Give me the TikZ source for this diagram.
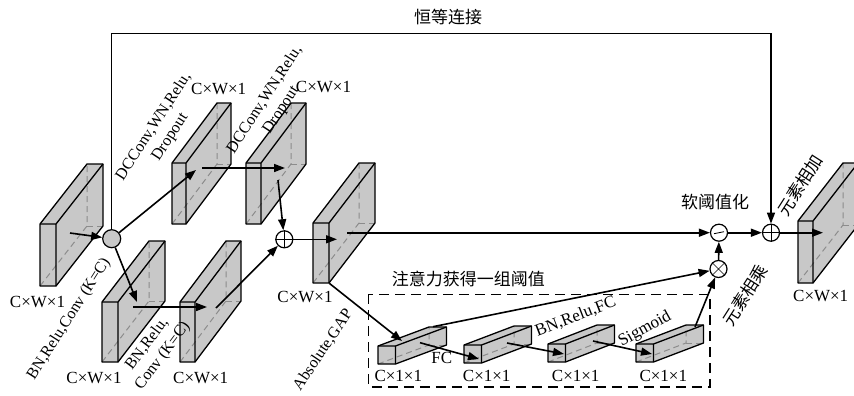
\documentclass[tikz,border=0pt]{standalone}
\usepackage{fontspec}
\setmainfont{Liberation Serif}
\newfontfamily\cjk{Noto Sans CJK SC}
\usetikzlibrary{arrows.meta}
\definecolor{slabgray}{HTML}{C8C8C8}
\definecolor{hidgray}{HTML}{8C8C8C}
\tikzset{
  edge/.style={line width=1.3pt, line join=round},
  hid/.style={draw=hidgray, line width=1pt, dash pattern=on 6pt off 4pt},
  arr/.style={line width=1.6pt, -{Triangle[length=11pt,width=8pt]}},
  opc/.style={circle, draw, line width=1.2pt, fill=white, minimum size=17pt, inner sep=0pt},
  lab/.style={font=\fontsize{17}{19}\selectfont, inner sep=0pt},
  rlab/.style={font=\fontsize{16}{19.5}\selectfont, inner sep=0pt, align=center},
  clab/.style={font=\cjk\fontsize{17}{19}\selectfont, inner sep=0pt},
  dbox/.style={line width=1.6pt, dash pattern=on 10pt off 6pt}
}
% #1 x, #2 y (front top-left), #3 w, #4 h, #5 dx, #6 up
\newcommand\slab[6]{%
  \path[fill=slabgray] (#1,#2) -- ++(#5,-#6) -- ++(#3,0) -- ++(0,#4) -- ++(-#5,#6) -- ++(-#3,0) -- cycle;
  \draw[hid] (#1,#2) ++(0,#4) -- ++(#5,-#6) -- ++(0,-#4);
  \draw[hid] (#1,#2) ++(#5,-#6) ++(0,#4) -- ++(#3,0);
  \draw[edge] (#1,#2) -- ++(#5,-#6) -- ++(#3,0) -- ++(0,#4) -- ++(-#5,#6) -- ++(-#3,0) -- cycle;
  \draw[edge] (#1,#2) -- ++(#3,0) -- ++(0,#4) (#1,#2) ++(#3,0) -- ++(#5,-#6);
}
\begin{document}
\begin{tikzpicture}[x=1pt,y=-1pt]
\useasboundingbox[fill=white] (0,0) rectangle (854,396);

% slabs
\slab{40}{224}{16}{62}{47}{60}
\slab{172}{163}{14}{61}{45}{60}
\slab{246}{163}{15}{61}{45}{60}
\slab{102}{302}{16}{60}{47}{61}
\slab{180}{302}{15}{60}{46}{61}
\slab{313}{223}{16}{60}{46}{60}
\slab{798}{221}{15}{62}{45}{58}
% bars
\slab{378}{346}{17.5}{18}{51}{19}
\slab{464}{345}{17.5}{18}{50}{19}
\slab{548}{344}{17.5}{18}{49}{19}
\slab{636}{344}{17.5}{18}{50}{19}

% dashed attention box
\draw[dbox] (368.3,294.3) rectangle (710,386.7);

% operator circles
\node[opc, fill=slabgray, minimum size=18pt] (c1) at (111.7,238.7) {};
\node[opc] (plus1) at (284.3,239.3) {};
\node[opc] (soft) at (719,232.7) {};
\node[opc] (times) at (718.5,269) {};
\node[opc] (plus2) at (771,232.7) {};
\draw[line width=0.6pt] (plus1.north) -- (plus1.south) (plus1.west) -- (plus1.east);
\draw[line width=0.6pt] (plus2.north) -- (plus2.south) (plus2.west) -- (plus2.east);
\draw[line width=0.6pt] (times.north west) -- (times.south east) (times.north east) -- (times.south west);
\draw[line width=0.8pt] ([xshift=-5pt,yshift=-1pt]soft.center) -- ([xshift=5pt,yshift=1pt]soft.center);

% connector endpoints
\coordinate (s1) at (70,233);
\coordinate (t2) at (196,170);
\coordinate (s23) at (202,168);
\coordinate (t23) at (285,168);
\coordinate (s3) at (278,180);
\coordinate (t4) at (137,302);
\coordinate (s45) at (133,307);
\coordinate (t45) at (207,307);
\coordinate (s5) at (216,308);
\coordinate (t6) at (337,239.3);
\coordinate (s6) at (347,232.7);
\coordinate (s6g) at (329.3,283.3);
\coordinate (tb1) at (402,341);
\coordinate (sb1) at (433,326.7);
\coordinate (sb12) at (420,342.7);
\coordinate (tb12) at (479,359);
\coordinate (sb23) at (507,343);
\coordinate (tb23) at (564,354);
\coordinate (sb34) at (593,341);
\coordinate (tb34) at (652,354);
\coordinate (sb4) at (695,327);
\coordinate (t7) at (823,232.7);
\coordinate (idl) at (111.7,33.3);
\coordinate (idr) at (771,33.3);

% connectors
\draw[arr] (s1) -- (c1);
\draw[arr] (c1) -- (t2);
\draw[arr] (s23) -- (t23);
\draw[arr] (s3) -- (plus1);
\draw[arr] (c1) -- (t4);
\draw[arr] (s45) -- (t45);
\draw[arr] (s5) -- (plus1);
\draw[arr] (plus1) -- (t6);
\draw[arr] (s6) -- (soft);
\draw[arr] (s6g) -- (tb1);
\draw[arr] (sb1) -- (times);
\draw[arr] (sb12) -- (tb12);
\draw[arr] (sb23) -- (tb23);
\draw[arr] (sb34) -- (tb34);
\draw[arr] (sb4) -- (times);
\draw[arr] (times) -- (soft);
\draw[arr] (soft) -- (plus2);
\draw[arr] (plus2) -- (t7);
\draw[arr, line width=1.5pt] (c1) -- (idl) -- (idr) -- (plus2);

% labels
\node[clab] (lid) at (448,17) {恒等连接};
\node[clab] (lsoft) at (715,201.7) {软阈值化};
\node[clab] (latt) at (468.3,279.3) {注意力获得一组阈值};
\node[clab, rotate=57.5] (lmul) at (745,295) {元素相乘};
\node[clab, rotate=57.5] (ladd) at (800,185) {元素相加};

\node[lab] (w1) at (37.5,301.7) {C×W×1};
\node[lab] (w2) at (218.7,89.3) {C×W×1};
\node[lab] (w3) at (323.5,87.3) {C×W×1};
\node[lab] (w4) at (94,378.3) {C×W×1};
\node[lab] (w5) at (200.7,378.3) {C×W×1};
\node[lab] (w6) at (305,297) {C×W×1};
\node[lab] (w7) at (820.7,295.7) {C×W×1};

\node[lab] (k1) at (398.3,375.5) {C×1×1};
\node[lab] (k2) at (486.7,375.5) {C×1×1};
\node[lab] (k3) at (575.7,376) {C×1×1};
\node[lab] (k4) at (663.3,376) {C×1×1};

\node[lab] (lfc) at (441.7,358.3) {FC};
\node[lab, rotate=21] (lbn) at (575.7,316.7) {BN,Relu,FC};
\node[lab, rotate=29] (lsig) at (645,329.3) {Sigmoid};
\node[rlab, rotate=56] (lgap) at (323,350) {Absolute,GAP};
\node[rlab, rotate=57] (ldc1) at (162,132) {DCConv,WN,Relu,\\Dropout};
\node[rlab, rotate=57] (ldc2) at (273,105) {DCConv,WN,Relu,\\Dropout};
\node[rlab, rotate=57.5] (lbr1) at (69,319) {BN,Relu,Conv (K=C)};
\node[rlab, rotate=53] (lbr2) at (155,350) {BN,Relu,\\Conv (K=C)};
\end{tikzpicture}
\end{document}
